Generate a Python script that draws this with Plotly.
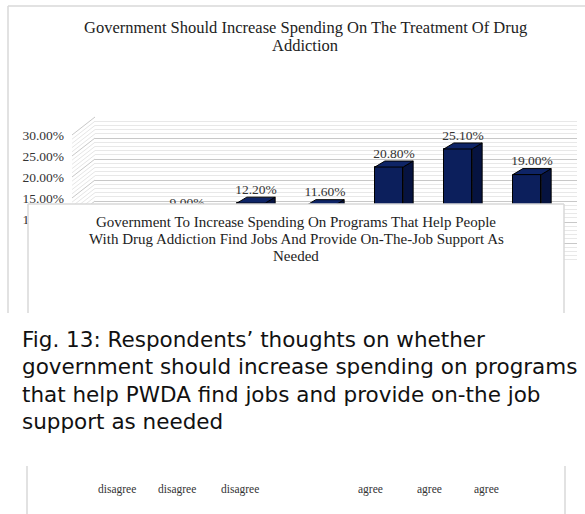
import plotly.graph_objects as go

# ---------------- data ----------------
categories = ["Strongly disagree", "Disagree", "Slightly disagree", "Neutral",
              "Slightly agree", "Agree", "Strongly agree"]
values = [2.30, 9.00, 12.20, 11.60, 20.80, 25.10, 19.00]   # percent
y_ticks = [0, 5, 10, 15, 20, 25, 30]
tick_text = [f"{t:.2f}%" for t in y_ticks]
bottom_labels = ["disagree", "disagree", "disagree", "agree", "agree", "agree"]

title_lines = ["Government Should Increase Spending On The Treatment Of Drug",
               "Addiction"]
overlay_lines = ["Government To Increase Spending On Programs That Help People",
                 "With Drug Addiction Find Jobs And Provide On-The-Job Support As",
                 "Needed"]
caption_lines = ["Fig. 13: Respondents\u2019 thoughts on whether",
                 "government should increase spending on programs",
                 "that help PWDA find jobs and provide on-the job",
                 "support as needed"]

# ---------------- layout geometry (pixels) ----------------
W, H = 585, 514
L, R, T, B = 95, 577, 116, 262          # plot area (back wall)
px_per_pct = 4.2
back_zero = 243.0                        # back-wall 0% line
bar_zero = 254.4                         # bar front-face 0% line
front_shift = 18                         # front plane is 18px below back wall
side_x0 = 72                             # front-left edge of side wall
cat_px0, cat_step = 113, 69

x_lo = (L - cat_px0) / cat_step
x_hi = (R - cat_px0) / cat_step
y_lo = -(B - bar_zero) / px_per_pct
y_hi = (bar_zero - T) / px_per_pct
y2_lo = -(B - back_zero) / px_per_pct
y2_hi = (back_zero - T) / px_per_pct


def px(xp):
    return (xp - L) / (R - L)


def py(yp):
    return (B - yp) / (B - T)


SERIF = "Liberation Serif, Times New Roman, serif"
front_col = "#0c1f5c"
side_col = "#061340"
top_col = "#0e2466"
grey = "#d9d9d9"

bar_w = 0.41
dx = 10 / cat_step
dy = 6 / px_per_pct

x_idx = list(range(len(categories)))

fig = go.Figure()

# invisible trace to hold the back-wall grid axis
fig.add_trace(go.Scatter(x=[x_lo], y=[y2_lo], yaxis="y2", mode="markers",
                         marker=dict(opacity=0), hoverinfo="skip",
                         showlegend=False))

fig.add_trace(go.Bar(
    x=x_idx, y=values, width=bar_w,
    marker=dict(color=front_col, line=dict(color="black", width=1)),
    hovertext=categories, showlegend=False,
))

for i, v in zip(x_idx, values):
    xr = i + bar_w / 2
    xl = i - bar_w / 2
    fig.add_trace(go.Scatter(
        x=[xr, xr + dx, xr + dx, xr, xr], y=[0, dy, v + dy, v, 0],
        mode="lines", fill="toself", fillcolor=side_col,
        line=dict(color="black", width=1), hoverinfo="skip", showlegend=False))
    fig.add_trace(go.Scatter(
        x=[xl, xr, xr + dx, xl + dx, xl], y=[v, v, v + dy, v + dy, v],
        mode="lines", fill="toself", fillcolor=top_col,
        line=dict(color="black", width=1), hoverinfo="skip", showlegend=False))

fig.add_trace(go.Scatter(
    x=[i + dx / 2 for i in x_idx], y=[v + dy for v in values],
    mode="text", text=[f"{v:.2f}%" for v in values],
    textposition="top center", cliponaxis=False,
    textfont=dict(family=SERIF, size=13.5, color="#333333"),
    hoverinfo="skip", showlegend=False))

shapes = []
# side wall hatch (perspective lines from front-left edge to back wall)
for k in range(0, 31):
    yb = back_zero - k * px_per_pct
    shapes.append(dict(type="line", xref="paper", yref="paper",
                       x0=px(side_x0), x1=px(L), y0=py(yb + front_shift),
                       y1=py(yb),
                       line=dict(color="#c8c8c8" if k % 5 == 0 else "#e6e6e6",
                                 width=1)))
shapes += [
    # outer chart frame (top + left)
    dict(type="line", xref="paper", yref="paper", x0=px(8), x1=px(585),
         y0=py(6), y1=py(6), line=dict(color=grey, width=1.5)),
    dict(type="line", xref="paper", yref="paper", x0=px(8), x1=px(8),
         y0=py(6), y1=py(313), line=dict(color=grey, width=1.5)),
    # overlay box (white, covering lower part of chart)
    dict(type="rect", xref="paper", yref="paper", x0=px(28), x1=px(564),
         y0=py(204), y1=py(313), fillcolor="white", line=dict(width=0),
         layer="above"),
    dict(type="line", xref="paper", yref="paper", x0=px(28), x1=px(564),
         y0=py(204), y1=py(204), line=dict(color=grey, width=1.5), layer="above"),
    dict(type="line", xref="paper", yref="paper", x0=px(28), x1=px(28),
         y0=py(204), y1=py(313), line=dict(color=grey, width=1.5), layer="above"),
    dict(type="line", xref="paper", yref="paper", x0=px(564), x1=px(564),
         y0=py(204), y1=py(313), line=dict(color=grey, width=1.5), layer="above"),
    # second chart fragment at bottom
    dict(type="line", xref="paper", yref="paper", x0=px(27), x1=px(27),
         y0=py(466), y1=py(514), line=dict(color=grey, width=1.5)),
    dict(type="line", xref="paper", yref="paper", x0=px(565), x1=px(565),
         y0=py(466), y1=py(514), line=dict(color=grey, width=1.5)),
]

annotations = []
for line, yp in zip(title_lines, [27, 45]):
    annotations.append(dict(text=line, xref="paper", yref="paper", x=px(305),
                            y=py(yp), showarrow=False, xanchor="center",
                            yanchor="middle",
                            font=dict(family=SERIF, size=16.5, color="#222222")))
for line, yp in zip(overlay_lines, [222, 239, 256]):
    annotations.append(dict(text=line, xref="paper", yref="paper", x=px(296),
                            y=py(yp), showarrow=False, xanchor="center",
                            yanchor="middle",
                            font=dict(family=SERIF, size=15, color="#222222")))
for line, yp in zip(caption_lines, [339, 366, 394, 421]):
    annotations.append(dict(text=line, xref="paper", yref="paper", x=px(20),
                            y=py(yp), showarrow=False, xanchor="left",
                            yanchor="middle",
                            font=dict(family="DejaVu Sans, Verdana, sans-serif",
                                      size=21.5, color="#111111")))
for lab, xp in zip(bottom_labels, [117, 177, 240, 370, 429, 486]):
    annotations.append(dict(text=lab, xref="paper", yref="paper", x=px(xp),
                            y=py(489), showarrow=False, xanchor="center",
                            yanchor="middle",
                            font=dict(family=SERIF, size=11.5, color="#333333")))

fig.update_layout(
    width=W, height=H,
    margin=dict(l=L, r=W - R, t=T, b=H - B, pad=0),
    paper_bgcolor="white", plot_bgcolor="white",
    shapes=shapes, annotations=annotations,
    bargap=0, showlegend=False,
    xaxis=dict(range=[x_lo, x_hi], showgrid=False, zeroline=False,
               showticklabels=False, ticks="", fixedrange=True),
    yaxis=dict(range=[y_lo, y_hi], showgrid=False, zeroline=False,
               showticklabels=False, ticks="", fixedrange=True),
    yaxis2=dict(range=[y2_lo, y2_hi], overlaying="y", side="left",
                tickvals=y_ticks, ticktext=tick_text,
                showgrid=True, gridcolor="#c8c8c8", gridwidth=1,
                zeroline=False, ticks="",
                ticklabelshift=front_shift, ticklabelstandoff=L - 62 - 3,
                tickfont=dict(family=SERIF, size=13.5, color="#333333"),
                minor=dict(dtick=1, showgrid=True, gridcolor="#e8e8e8"),
                fixedrange=True),
)

fig.write_html("out.html", config={"displayModeBar": False},
               post_script="document.body.style.margin='0';")
